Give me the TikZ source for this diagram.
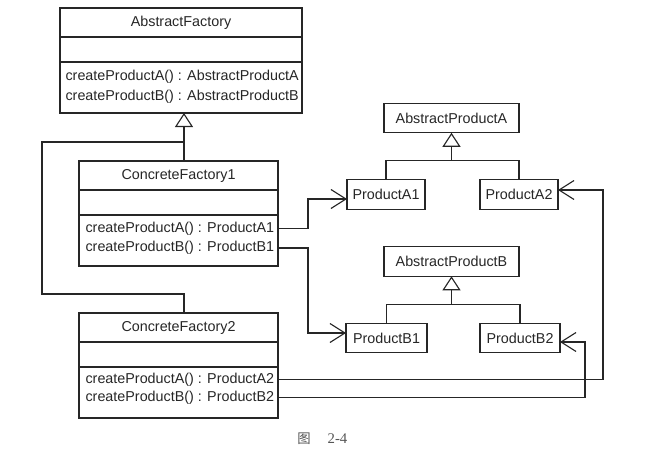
\documentclass[tikz,border=0pt]{standalone}
\usepackage{fontspec}
\setmainfont{Liberation Sans}
\newfontfamily\capfont{Liberation Serif}
\newfontfamily\cjkfont{Noto Sans CJK SC}
\usetikzlibrary{arrows.meta,positioning,calc}
\definecolor{umlcolor}{RGB}{38,38,38}
\definecolor{captioncolor}{RGB}{85,85,85}

\begin{document}
\begin{tikzpicture}[
  color=umlcolor,
  line width=0.8pt,
  classpart/.style={
    draw,
    inner sep=0pt,
    outer sep=0pt,
    minimum width=#1,
    font=\fontsize{10.2pt}{12pt}\selectfont
  },
  classname/.style={classpart=#1, minimum height=0.725cm},
  classattr/.style={classpart=#1, minimum height=0.63cm},
  classops/.style={classpart=#1, minimum height=1.27cm},
  oprow/.style={anchor=west, inner sep=0pt, font=\fontsize{10.2pt}{12pt}\selectfont},
  prodbox/.style={
    draw,
    inner sep=0pt,
    outer sep=0pt,
    minimum width=#1,
    minimum height=0.74cm,
    font=\fontsize{10.2pt}{12pt}\selectfont
  },
  divider/.style={line width=1.7pt},
  inherit/.style={-{Triangle[open, length=0.35cm, width=0.45cm]}},
  uses/.style={-{Straight Barb[length=0.375cm, width=0.475cm]}}
]
\useasboundingbox (0,0) rectangle (16.3,11.275);

% -------- AbstractFactory --------
\node[classname=6.05cm, anchor=north] (af) at (4.525,11.075) {AbstractFactory};
\node[classattr=6.05cm, below=0pt of af] (afa) {};
\node[classops=6.05cm, below=0pt of afa] (afo) {};
\node[oprow] (afr1) at ($(afo.north west)+(0.125,-0.37)$) {createProductA() : AbstractProductA};
\node[oprow] (afr2) at ($(afo.north west)+(0.125,-0.87)$) {createProductB() : AbstractProductB};
\draw[divider] (afa.north west) -- (afa.north east);
\draw[divider] (afo.north west) -- (afo.north east);

% -------- ConcreteFactory1 --------
\node[classname=4.975cm, anchor=north] (cf1) at (4.4625,7.25) {ConcreteFactory1};
\node[classattr=4.975cm, below=0pt of cf1] (cf1a) {};
\node[classops=4.975cm, below=0pt of cf1a] (cf1o) {};
\node[oprow] (cf1r1) at ($(cf1o.north west)+(0.15,-0.33)$) {createProductA() : ProductA1};
\node[oprow] (cf1r2) at ($(cf1o.north west)+(0.15,-0.82)$) {createProductB() : ProductB1};
\draw[divider] (cf1a.north west) -- (cf1a.north east);
\draw[divider] (cf1o.north west) -- (cf1o.north east);

% -------- ConcreteFactory2 --------
\node[classname=4.975cm, anchor=north] (cf2) at (4.4625,3.45) {ConcreteFactory2};
\node[classattr=4.975cm, below=0pt of cf2] (cf2a) {};
\node[classops=4.975cm, below=0pt of cf2a] (cf2o) {};
\node[oprow] (cf2r1) at ($(cf2o.north west)+(0.15,-0.31)$) {createProductA() : ProductA2};
\node[oprow] (cf2r2) at ($(cf2o.north west)+(0.15,-0.76)$) {createProductB() : ProductB2};
\draw[divider] (cf2a.north west) -- (cf2a.north east);
\draw[divider] (cf2o.north west) -- (cf2o.north east);

% -------- Products --------
\node[prodbox=3.375cm] (apa) at (11.2875,8.325) {AbstractProductA};
\node[prodbox=1.95cm] (pa1) at (9.65,6.4125) {ProductA1};
\node[prodbox=1.95cm] (pa2) at (12.975,6.4125) {ProductA2};
\node[prodbox=3.375cm] (apb) at (11.2875,4.7375) {AbstractProductB};
\node[prodbox=2.025cm] (pb1) at (9.6625,2.825) {ProductB1};
\node[prodbox=2.0cm] (pb2) at (13.0,2.825) {ProductB2};

% -------- Generalisation --------
\coordinate (facbus) at (4.6,7.725);
\coordinate (facleft) at (1.05,3.925);
\draw[inherit] (facbus) -- (facbus |- afo.south);
\draw (cf1.north -| facbus) -- (facbus) -| (facleft) -| (cf2.north -| facbus);

\coordinate (hubA) at ($(apa.south)+(0,-0.7)$);
\draw[inherit] (hubA) -- (apa.south);
\draw (pa1.north) |- (hubA) -| (pa2.north);

\coordinate (hubB) at ($(apb.south)+(0,-0.7)$);
\draw[inherit] (hubB) -- (apb.south);
\draw (pb1.north) |- (hubB) -| (pb2.north);

% -------- Creates --------
\coordinate (bendA1) at (7.7,6.3);
\coordinate (bendB1) at (7.7,2.95);
\coordinate (bendA2) at (15.075,6.525);
\coordinate (bendB2) at (14.625,2.725);
\draw[uses] (cf1r1.east -| cf1o.east) -| (bendA1) -- (bendA1 -| pa1.west);
\draw[uses] (cf1r2.east -| cf1o.east) -| (bendB1) -- (bendB1 -| pb1.west);
\draw[uses] (cf2r1.east -| cf2o.east) -| (bendA2) -- (bendA2 -| pa2.east);
\draw[uses] (cf2r2.east -| cf2o.east) -| (bendB2) -- (bendB2 -| pb2.east);

% -------- Caption --------
\node[text=captioncolor] (caption) at (8.06,0.3)
{{\cjkfont\fontsize{9.5pt}{11pt}\selectfont 图}\hspace{1.2em}{\capfont\fontsize{10.5pt}{12pt}\selectfont 2-4}};

\end{tikzpicture}
\end{document}
